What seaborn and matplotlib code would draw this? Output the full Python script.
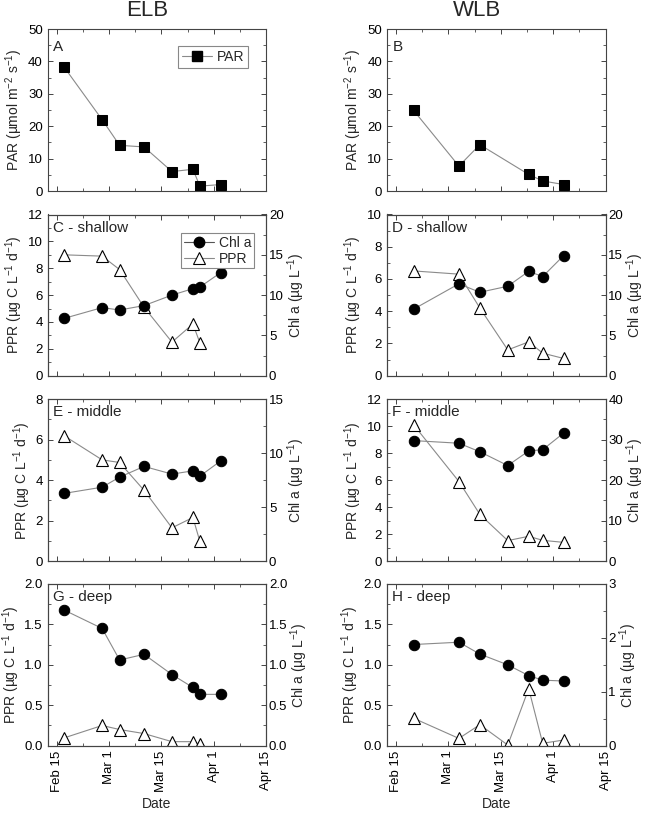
import numpy as np
import pandas as pd
import matplotlib
matplotlib.use("Agg")
import matplotlib.pyplot as plt
from matplotlib.ticker import MultipleLocator, FormatStrFormatter
from matplotlib.lines import Line2D
import seaborn as sns

# --- sampling days (axis units, Feb 15 = 0, tick every 15) ---
elb_day = [2, 13, 18, 25, 33, 39, 41, 47]
wlb_day = [5, 18, 24, 32, 38, 42, 48]
wlb_par_day = [5, 18, 24, 38, 42, 48]

# --- PAR ---
elb_par = [38.4, 22.0, 14.1, 13.6, 6.0, 6.7, 1.5, 2.0]
wlb_par = [24.9, 7.7, 14.3, 5.1, 3.1, 2.0]

# --- ELB Chl a / PPR ---
elb_shallow_chl = [7.1, 8.45, 8.15, 8.7, 10.0, 10.8, 11.0, 12.8]
elb_shallow_ppr = [9.0, 8.9, 7.9, 5.1, 2.5, 3.85, 2.45]
elb_middle_chl = [6.27, 6.85, 7.78, 8.77, 8.06, 8.36, 7.87, 9.29]
elb_middle_ppr = [6.2, 5.0, 4.87, 3.5, 1.65, 2.16, 0.98]
elb_deep_chl = [1.68, 1.45, 1.06, 1.13, 0.88, 0.72, 0.635, 0.635]
elb_deep_ppr = [0.095, 0.25, 0.2, 0.15, 0.05, 0.05, 0.015]

# --- WLB Chl a / PPR ---
wlb_shallow_chl = [8.25, 11.4, 10.35, 11.1, 12.95, 12.3, 14.9]
wlb_shallow_ppr = [6.5, 6.3, 4.2, 1.6, 2.1, 1.4, 1.07]
wlb_middle_chl = [29.75, 29.1, 27.0, 23.6, 27.2, 27.5, 31.6]
wlb_middle_ppr = [10.1, 5.9, 3.47, 1.53, 1.85, 1.55, 1.4]
wlb_deep_chl = [1.877, 1.92, 1.70, 1.50, 1.30, 1.216, 1.20]
wlb_deep_ppr = [0.34, 0.09, 0.26, 0.008, 0.705, 0.03, 0.07]

date_ticks = [0, 15, 30, 45, 60]
date_labels = ["Feb 15", "Mar 1", "Mar 15", "Apr 1", "Apr 15"]

sns.set_style("ticks")
plt.rcParams["font.family"] = ["Liberation Sans", "DejaVu Sans"]
plt.rcParams["mathtext.default"] = "regular"
plt.rcParams["axes.edgecolor"] = "#444444"
plt.rcParams["axes.linewidth"] = 0.8

LINE = "#8a8a8a"
TICK_FS = 9.5
LAB_FS = 10

par_label = "PAR (µmol m$^{-2}$ s$^{-1}$)"
ppr_label = "PPR (µg C L$^{-1}$ d$^{-1}$)"
chl_label = "Chl a (µg L$^{-1}$)"

fig = plt.figure(figsize=(6.5, 8.13), dpi=100)
W, H = 650, 813


def make_ax(left, top, bottom, width=218.5):
    return fig.add_axes([left / W, 1 - bottom / H, width / W, (bottom - top) / H])


def style_x(ax, bottom_row):
    ax.xaxis.set_major_locator(MultipleLocator(15))
    ax.xaxis.set_minor_locator(MultipleLocator(7.5))
    if bottom_row:
        ax.set_xticks(date_ticks)
        ax.set_xticklabels(date_labels, rotation=90, fontsize=10)
        ax.set_xlabel("Date", fontsize=LAB_FS)
    else:
        ax.set_xticklabels([])
        ax.set_xlabel("")
    ax.set_xlim(-2.6, 60)


def style_ticks(ax, right=True):
    ax.tick_params(which="both", direction="in", top=True, right=right,
                   labelsize=TICK_FS, colors="#444444", labelcolor="black")
    ax.tick_params(which="major", length=3.5, width=0.7)
    ax.tick_params(which="minor", length=2, width=0.6)


def par_panel(ax, days, vals, letter, legend):
    df = pd.DataFrame({"day": days, "PAR": vals})
    sns.lineplot(data=df, x="day", y="PAR", ax=ax, color=LINE, lw=0.8,
                 marker="s", markersize=7, markerfacecolor="black",
                 markeredgecolor="black", label="PAR", legend=False)
    ax.set_ylim(0, 50)
    ax.yaxis.set_major_locator(MultipleLocator(10))
    ax.yaxis.set_minor_locator(MultipleLocator(5))
    ax.set_ylabel(par_label, fontsize=LAB_FS, labelpad=2)
    style_x(ax, False)
    style_ticks(ax)
    ax.text(0.025, 0.93, letter, transform=ax.transAxes, fontsize=11, va="top")
    if legend:
        h = [Line2D([], [], color=LINE, lw=0.8, marker="s", markersize=7,
                    markerfacecolor="black", markeredgecolor="black")]
        leg = ax.legend(h, ["PAR"], loc="upper right", fontsize=LAB_FS,
                        fancybox=False, edgecolor="#888888", framealpha=1,
                        handlelength=2.2, borderpad=0.3, handletextpad=0.3,
                        bbox_to_anchor=(0.95, 0.94))
        leg.get_frame().set_linewidth(0.8)


def depth_panel(ax, days_ppr, ppr, days_chl, chl, letter, lmax, lstep, rmax, rstep,
                fmt=None, bottom_row=False, legend=False):
    df_ppr = pd.DataFrame({"day": days_ppr, "PPR": ppr})
    df_chl = pd.DataFrame({"day": days_chl, "Chl": chl})
    ax2 = ax.twinx()
    sns.lineplot(data=df_ppr, x="day", y="PPR", ax=ax, color=LINE, lw=0.8,
                 marker="^", markersize=9, markerfacecolor="white",
                 markeredgecolor="black", markeredgewidth=0.8, legend=False)
    sns.lineplot(data=df_chl, x="day", y="Chl", ax=ax2, color=LINE, lw=0.8,
                 marker="o", markersize=7.5, markerfacecolor="black",
                 markeredgecolor="black", legend=False)
    ax.set_ylim(0, lmax)
    ax.yaxis.set_major_locator(MultipleLocator(lstep))
    ax.yaxis.set_minor_locator(MultipleLocator(lstep / 2))
    ax2.set_ylim(0, rmax)
    ax2.yaxis.set_major_locator(MultipleLocator(rstep))
    ax2.yaxis.set_minor_locator(MultipleLocator(rstep / 2))
    if fmt:
        ax.yaxis.set_major_formatter(FormatStrFormatter(fmt))
    if rmax == 2.0:
        ax2.yaxis.set_major_formatter(FormatStrFormatter("%.1f"))
    ax.set_ylabel(ppr_label, fontsize=LAB_FS, labelpad=2)
    ax2.set_ylabel(chl_label, fontsize=LAB_FS, labelpad=1)
    style_x(ax, bottom_row)
    ax2.set_xlabel("")
    style_ticks(ax, right=False)
    style_ticks(ax2, right=True)
    ax2.tick_params(which="both", left=False, top=False, labelbottom=False, pad=2)
    ax.text(0.025, 0.96, letter, transform=ax.transAxes, fontsize=11, va="top")
    if legend:
        h = [Line2D([], [], color="#555555", lw=0.8, marker="o", markersize=7.5,
                    markerfacecolor="black", markeredgecolor="black"),
             Line2D([], [], color=LINE, lw=0.8, marker="^", markersize=9,
                    markerfacecolor="white", markeredgecolor="black",
                    markeredgewidth=0.8)]
        leg = ax2.legend(h, ["Chl a", "PPR"], loc="upper right", fontsize=LAB_FS,
                         fancybox=False, edgecolor="#888888", framealpha=1,
                         handlelength=2.2, borderpad=0.2, handletextpad=0.3,
                         labelspacing=0.15, bbox_to_anchor=(0.975, 0.93))
        leg.get_frame().set_linewidth(0.8)
    ax.set_xlim(-2.6, 60)


lx, rx = 47.7, 387.0
rows = [(29, 191), (214.5, 375.7), (399, 561.3), (584, 745.7)]

axA = make_ax(lx, *rows[0])
axB = make_ax(rx, *rows[0])
par_panel(axA, elb_day, elb_par, "A", True)
par_panel(axB, wlb_par_day, wlb_par, "B", False)

axC = make_ax(lx, *rows[1])
depth_panel(axC, elb_day[:7], elb_shallow_ppr, elb_day, elb_shallow_chl,
            "C - shallow", 12, 2, 20, 5, legend=True)
axD = make_ax(rx, *rows[1])
depth_panel(axD, wlb_day, wlb_shallow_ppr, wlb_day, wlb_shallow_chl,
            "D - shallow", 10, 2, 20, 5)

axE = make_ax(lx, *rows[2])
depth_panel(axE, elb_day[:7], elb_middle_ppr, elb_day, elb_middle_chl,
            "E - middle", 8, 2, 15, 5)
axF = make_ax(rx, *rows[2])
depth_panel(axF, wlb_day, wlb_middle_ppr, wlb_day, wlb_middle_chl,
            "F - middle", 12, 2, 40, 10)

axG = make_ax(lx, *rows[3])
depth_panel(axG, elb_day[:7], elb_deep_ppr, elb_day, elb_deep_chl,
            "G - deep", 2.0, 0.5, 2.0, 0.5, fmt="%.1f", bottom_row=True)
axH = make_ax(rx, *rows[3])
depth_panel(axH, wlb_day, wlb_deep_ppr, wlb_day, wlb_deep_chl,
            "H - deep", 2.0, 0.5, 3, 1, fmt="%.1f", bottom_row=True)

fig.text(147.5 / W, 1 - 11 / H, "ELB", fontsize=16, ha="center", va="center")
fig.text(477 / W, 1 - 11 / H, "WLB", fontsize=16, ha="center", va="center")

fig.savefig("out.png", dpi=100)
